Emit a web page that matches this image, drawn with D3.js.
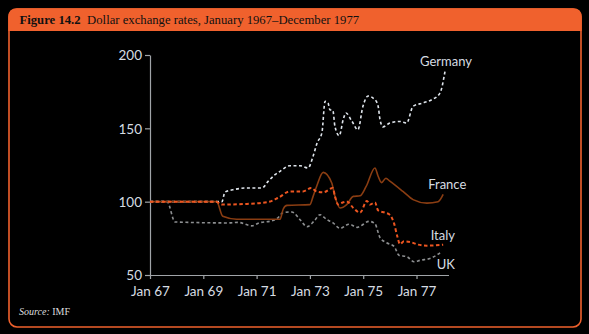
<!DOCTYPE html>
<html>
<head>
<meta charset="utf-8">
<script src="https://cdn.jsdelivr.net/npm/d3@7"></script>
<style>
  html, body { margin: 0; padding: 0; background: #000; }
  svg { display: block; }
</style>
</head>
<body>
<div id="chart"></div>
<script>
// Dollar exchange rates, Jan 1967 = 100
// points are [decimal year, index]
const germany = [
  [1967.0, 100], [1969.70, 100], [1969.81, 106.5], [1970.19, 108.4], [1970.56, 109.3],
  [1971.20, 109.3], [1971.43, 113.8], [1971.69, 118.4], [1971.88, 120.7], [1972.25, 124.5],
  [1972.63, 124.5], [1972.93, 123], [1973.12, 131], [1973.27, 140], [1973.45, 147],
  [1973.57, 168.4], [1973.68, 167.3], [1973.75, 162.7], [1973.86, 162.2], [1973.94, 151.3],
  [1974.10, 145], [1974.25, 156], [1974.35, 160.5], [1974.58, 154.7], [1974.80, 149],
  [1974.99, 165], [1975.18, 172], [1975.44, 169.5], [1975.56, 165], [1975.63, 156],
  [1975.74, 151], [1976.0, 153.6], [1976.38, 154.7], [1976.63, 153.6], [1976.87, 165],
  [1977.24, 167.3], [1977.57, 169.5], [1977.88, 174], [1978.07, 189]
];
const france = [
  [1967.0, 100], [1969.50, 100], [1969.73, 90], [1970.25, 88], [1971.0, 88],
  [1971.88, 88], [1972.0, 95], [1972.14, 97.5], [1973.0, 98], [1973.12, 103.6],
  [1973.25, 110.4], [1973.50, 120], [1973.82, 112.7], [1973.94, 103.6], [1974.13, 95.7],
  [1974.38, 98], [1974.63, 103.6], [1974.88, 104], [1975.11, 110.4], [1975.44, 123],
  [1975.56, 117.3], [1975.69, 113], [1975.85, 116], [1976.0, 114], [1976.49, 107],
  [1976.87, 101.4], [1977.39, 99], [1977.81, 100], [1978.0, 105]
];
const italy = [
  [1967.0, 100], [1969.48, 100], [1969.70, 98], [1970.56, 98.4], [1971.43, 99.8],
  [1971.80, 102.5], [1972.25, 107], [1972.74, 107], [1973.05, 109.3], [1973.25, 107],
  [1973.50, 106.4], [1973.86, 109.3], [1973.94, 103.6], [1974.06, 98], [1974.19, 99.1],
  [1974.38, 100.2], [1974.63, 95.7], [1974.88, 92.5], [1975.14, 100.5], [1975.25, 98],
  [1975.44, 99.5], [1975.56, 94], [1975.82, 92.5], [1976.0, 91], [1976.16, 85],
  [1976.27, 77], [1976.38, 71], [1976.53, 73], [1976.76, 72.5], [1977.06, 70.7],
  [1977.39, 70], [1978.0, 70.7]
];
const uk = [
  [1967.0, 100], [1967.64, 100], [1967.94, 86.2], [1969.93, 85.5], [1970.30, 85.9],
  [1970.82, 83.5], [1971.09, 85.5], [1971.58, 87], [1971.80, 89], [1971.99, 92.5],
  [1972.32, 93], [1972.63, 87.7], [1972.89, 83], [1973.15, 86.6], [1973.38, 91.1],
  [1973.64, 87.7], [1973.87, 85.5], [1974.13, 81.8], [1974.47, 84.6], [1974.77, 82.5],
  [1974.88, 83.2], [1975.22, 86.6], [1975.44, 85], [1975.63, 75.5], [1975.88, 72],
  [1976.16, 69.5], [1976.34, 63.5], [1976.64, 62.5], [1976.91, 59], [1977.13, 60],
  [1977.54, 61.5], [1977.96, 66.1]
];
const xTicks = [1967, 1969, 1971, 1973, 1975, 1977];
const yTicks = [50, 100, 150, 200];
const seriesNames = ['Germany', 'France', 'Italy', 'UK'];
// label anchor points [decimal year, index]
const labelPos = [[1977.13, 192.7], [1977.44, 108.5], [1977.53, 73.8], [1977.76, 54]];

const W = 589, H = 334;
const ORANGE = '#f0612d';
const SANS = "Lato, 'Open Sans', sans-serif";
const SERIF = "'Liberation Serif', 'DejaVu Serif', serif";

const svg = d3.select('#chart').append('svg')
  .attr('width', W).attr('height', H);

svg.append('rect').attr('width', W).attr('height', H).attr('fill', '#000');

// panel frame + header band
svg.append('rect')
  .attr('x', 9).attr('y', 9).attr('width', 572).attr('height', 318)
  .attr('rx', 8)
  .attr('fill', '#000').attr('stroke', ORANGE).attr('stroke-width', 1.6);
svg.append('path')
  .attr('d', 'M8.2,31 V17 Q8.2,8.2 17,8.2 H573 Q581.8,8.2 581.8,17 V31 Z')
  .attr('fill', ORANGE);

const title = svg.append('text')
  .attr('x', 19.5).attr('y', 24)
  .attr('font-family', SERIF).attr('font-size', 12.7).attr('fill', '#111');
title.append('tspan').attr('font-weight', 'bold').text('Figure 14.2');
title.append('tspan').attr('dx', 6.5).text('Dollar exchange rates, January 1967–December 1977');

const src = svg.append('text')
  .attr('x', 19).attr('y', 315)
  .attr('font-family', SERIF).attr('font-size', 10).attr('fill', '#ddd');
src.append('tspan').attr('font-style', 'italic').text('Source:');
src.append('tspan').text(' IMF');

// scales
const x = d3.scaleLinear().domain([1967, 1978.2]).range([150, 448.5]);
const y = d3.scaleLinear().domain([50, 200]).range([275, 55]);

const g = svg.append('g');

const axisColor = '#a0a4a8';
const textColor = '#d6dce2';

const xAxis = g.append('g')
  .attr('transform', `translate(0,${y(50)})`)
  .call(d3.axisBottom(x).tickValues(xTicks).tickSize(4).tickSizeOuter(0)
    .tickFormat(d => 'Jan ' + String(d).slice(2)));
const yAxis = g.append('g')
  .attr('transform', `translate(${x(1967)},0)`)
  .call(d3.axisLeft(y).tickValues(yTicks).tickSize(5).tickSizeOuter(0));

[xAxis, yAxis].forEach(a => {
  a.selectAll('path, line').attr('stroke', axisColor).attr('stroke-width', 1.2);
  a.selectAll('text')
    .attr('fill', textColor).attr('font-family', SANS).attr('font-size', 13.5);
});
xAxis.selectAll('text').attr('dy', '1.05em');
yAxis.selectAll('text').attr('dy', '0.35em').attr('x', -8);

const line = d3.line()
  .x(d => x(d[0]))
  .y(d => y(d[1]))
  .curve(d3.curveMonotoneX);

const styles = [
  { data: germany, color: '#dfe5ec', width: 1.6, dash: '3 2.5' },
  { data: uk,      color: '#8d8f91', width: 1.6, dash: '3 2.5' },
  { data: france,  color: '#8a3d12', width: 1.6, dash: null },
  { data: italy,   color: '#ec5520', width: 2,   dash: '3.5 2.5' }
];

styles.forEach(s => {
  g.append('path')
    .attr('d', line(s.data))
    .attr('fill', 'none')
    .attr('stroke', s.color)
    .attr('stroke-width', s.width)
    .attr('stroke-dasharray', s.dash);
});

g.selectAll('.series-label')
  .data(seriesNames)
  .join('text')
  .attr('class', 'series-label')
  .attr('x', (d, i) => x(labelPos[i][0]))
  .attr('y', (d, i) => y(labelPos[i][1]))
  .attr('font-family', SANS).attr('font-size', 13)
  .attr('fill', textColor)
  .text(d => d);
</script>
</body>
</html>
